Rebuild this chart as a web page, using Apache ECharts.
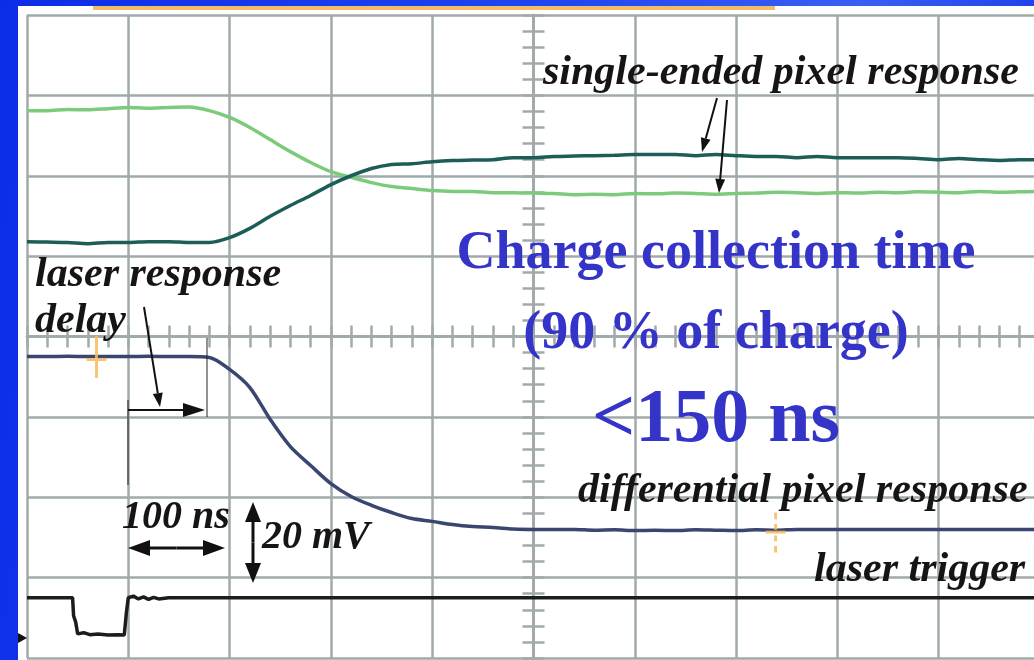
<!DOCTYPE html>
<html>
<head>
<meta charset="utf-8">
<script src="https://cdn.jsdelivr.net/npm/echarts@6/dist/echarts.min.js"></script>
<style>
    html, body { margin: 0; padding: 0; }
    body {
        width: 1034px; height: 660px; overflow: hidden; position: relative;
        background: linear-gradient(100deg, #0c2ce8 0%, #1d43f2 45%, #3a5ef4 75%, #0f30e6 100%);
    }
    #panel { position: absolute; left: 18px; top: 6px; right: 0; bottom: 0; background: #ffffff; }
    #strip { position: absolute; left: 93px; top: 6px; width: 682px; height: 4px; background: #f2bb68; }
    #scope { position: absolute; left: 0; top: 0; width: 1034px; height: 660px; }
</style>
</head>
<body>
<div id="panel"></div>
<div id="strip"></div>
<div id="scope"></div>
<script>
// time axis in ns, amplitude in mV (20 mV / div, 100 ns / div)
const times = [0, 20, 40, 60, 80, 100, 120, 140, 160, 180,
    200, 220, 240, 260, 280, 300, 320, 340, 360, 380,
    400, 420, 440, 460, 480, 500, 520, 540, 560, 580,
    600, 620, 640, 660, 680, 700, 720, 740, 760, 780,
    800, 820, 840, 860, 880, 900, 920, 940, 960, 980, 1000];

// single-ended pixel response, falling channel (light green)
const singleFall = [56.2, 56.2, 56.5, 56.4, 56.7, 57.0, 56.8, 57.0, 57.1, 56.2,
    54.5, 52.0, 49.0, 46.0, 43.3, 41.0, 39.6, 38.3, 37.3, 36.8,
    36.3, 36.1, 36.1, 35.8, 35.8, 35.7, 35.6, 35.3, 35.4, 35.3,
    35.6, 35.5, 35.7, 35.6, 35.4, 35.6, 35.7, 35.9, 35.8, 35.6,
    35.8, 35.7, 35.9, 35.8, 36.0, 35.9, 35.8, 36.1, 35.9, 36.0, 36.1];

// single-ended pixel response, rising channel (dark teal)
const singleRise = [23.6, 23.5, 23.4, 23.1, 23.4, 23.4, 23.6, 23.6, 23.4, 23.4,
    24.6, 26.9, 29.9, 32.6, 35.1, 37.8, 40.0, 41.8, 42.8, 43.0,
    43.5, 43.8, 43.9, 44.0, 44.5, 44.5, 44.8, 44.9, 45.0, 45.1,
    45.3, 45.3, 45.3, 45.0, 45.3, 45.0, 44.8, 44.8, 44.5, 44.8,
    44.5, 44.5, 44.5, 44.5, 44.3, 44.0, 44.3, 44.0, 43.8, 44.0, 44.0];

// differential pixel response
const differential = [-5.0, -5.0, -4.9, -5.0, -5.0, -5.0, -4.9, -5.0, -5.0, -5.2,
    -8.2, -12.7, -20.6, -27.4, -32.1, -36.6, -39.8, -42.0, -43.8, -45.3,
    -46.0, -46.8, -47.3, -47.5, -47.9, -48.0, -48.0, -48.0, -48.2, -48.1,
    -48.3, -48.2, -48.3, -48.1, -48.2, -48.3, -48.1, -48.2, -48.0, -48.0,
    -48.0, -48.0, -48.0, -48.0, -48.0, -48.0, -48.0, -48.0, -48.0, -48.0, -48.0];

// laser trigger
const triggerTimes = [0, 45, 46, 48, 50, 56, 62, 70, 80, 90, 96, 98, 100,
    105, 110, 115, 120, 125, 130, 140, 150, 1000];
const triggerValues = [-65, -65, -69.5, -71, -74, -73.7, -74.2, -74.0, -74.3, -74.2, -74.3, -69, -65,
    -64.6, -65.3, -64.8, -65.4, -64.9, -65.3, -65, -65, -65];

// scope cursor markers [ns, mV]
const cursorSolid = [68.6, -5.1];
const cursorDashed = [739, -48.8];

const pair = (xs, ys) => xs.map((x, i) => [x, ys[i]]);

const gridColor = '#a1aaaa';
const italicFont = 'italic bold 42px "Liberation Serif"';
const blueFont = 'bold 54px "Liberation Serif"';

function arrow(x1, y1, x2, y2, headLen, headW, lw) {
    const dx = x2 - x1, dy = y2 - y1;
    const len = Math.sqrt(dx * dx + dy * dy);
    const ux = dx / len, uy = dy / len;
    const bx = x2 - ux * headLen, by = y2 - uy * headLen;
    return [
        { type: 'line', z: 50, shape: { x1: x1, y1: y1, x2: bx, y2: by }, style: { stroke: '#111', lineWidth: lw } },
        { type: 'polygon', z: 50, shape: { points: [[x2, y2], [bx - uy * headW, by + ux * headW], [bx + uy * headW, by - ux * headW]] }, style: { fill: '#111' } }
    ];
}

function doubleArrow(x1, y1, x2, y2, headLen, headW, lw) {
    const mx = (x1 + x2) / 2, my = (y1 + y2) / 2;
    return arrow(mx, my, x2, y2, headLen, headW, lw).concat(arrow(mx, my, x1, y1, headLen, headW, lw));
}

function label(text, x, y, font, fill, align) {
    return {
        type: 'text', z: 60, x: x, y: y,
        style: { text: text, font: font, fill: fill, textAlign: align || 'left', textVerticalAlign: 'middle' }
    };
}

const graphics = [
    label('single-ended pixel response', 543, 73, italicFont, '#151515'),
    label('Charge collection time', 716, 254, blueFont, '#3434c8', 'center'),
    label('(90 % of charge)', 716, 334, blueFont, '#3434c8', 'center'),
    label('<150 ns', 716, 421, 'bold 76px "Liberation Serif"', '#3434c8', 'center'),
    label('laser response', 35, 275, italicFont, '#151515'),
    label('delay', 35, 321, italicFont, '#151515'),
    label('100 ns', 122, 518, 'italic bold 40px "Liberation Serif"', '#151515'),
    label('20 mV', 262, 538, 'italic bold 40px "Liberation Serif"', '#151515'),
    label('differential pixel response', 578, 491, italicFont, '#151515'),
    label('laser trigger', 814, 570, italicFont, '#151515'),
    { type: 'line', z: 50, shape: { x1: 207, y1: 338, x2: 207, y2: 417 }, style: { stroke: '#222', lineWidth: 1 } },
    { type: 'line', z: 50, shape: { x1: 128, y1: 400, x2: 128, y2: 485 }, style: { stroke: '#222', lineWidth: 1 } },
    { type: 'polygon', z: 50, shape: { points: [[27, 638], [18, 633], [18, 643]] }, style: { fill: '#111' } }
]
    .concat(arrow(717, 98, 702, 152, 14, 5, 2))
    .concat(arrow(727, 100, 719, 193, 14, 5, 2))
    .concat(arrow(144, 307, 160, 407, 14, 5, 2))
    .concat(arrow(128, 410, 205, 410, 22, 7, 2))
    .concat(doubleArrow(128, 548, 225, 548, 22, 8, 3))
    .concat(doubleArrow(253, 502, 253, 583, 20, 8, 3));

const axisCommon = {
    type: 'value',
    axisLabel: { show: false },
    axisTick: { show: true, length: 11, lineStyle: { color: gridColor, width: 2.5 } },
    minorTick: { show: true, splitNumber: 5, length: 11, lineStyle: { color: gridColor, width: 2.5 } }
};
const centerLine = { show: true, onZero: false, lineStyle: { color: gridColor, width: 2.5 } };
const splitOn = { show: true, lineStyle: { color: gridColor, width: 2.5 } };

const chart = echarts.init(document.getElementById('scope'), null, { renderer: 'canvas' });

chart.setOption({
    backgroundColor: 'transparent',
    animation: false,
    grid: { left: 27, top: 15, width: 1013, height: 643, show: false, outerBoundsMode: 'none', containLabel: false },
    xAxis: [
        Object.assign({}, axisCommon, { position: 'bottom', min: 0, max: 1000, interval: 100,
            axisLine: { show: true, onZero: true, lineStyle: centerLine.lineStyle }, splitLine: splitOn }),
        Object.assign({}, axisCommon, { position: 'top', min: 0, max: 1000, interval: 100,
            axisLine: { show: true, onZero: true, lineStyle: centerLine.lineStyle }, splitLine: { show: false } })
    ],
    yAxis: [
        Object.assign({}, axisCommon, { position: 'left', offset: -506.5, min: -80, max: 80, interval: 20,
            axisLine: centerLine, splitLine: splitOn }),
        Object.assign({}, axisCommon, { position: 'right', offset: -506.5, min: -80, max: 80, interval: 20,
            axisLine: centerLine, splitLine: { show: false } })
    ],
    graphic: graphics,
    series: [
        {
            name: 'single-ended (falling)', type: 'line', showSymbol: false, smooth: 0.3,
            data: pair(times, singleFall),
            lineStyle: { color: '#7ccb7c', width: 3.5 }
        },
        {
            name: 'single-ended (rising)', type: 'line', showSymbol: false, smooth: 0.3,
            data: pair(times, singleRise),
            lineStyle: { color: '#1c5e57', width: 3.5 }
        },
        {
            name: 'differential', type: 'line', showSymbol: false, smooth: 0.3,
            data: pair(times, differential),
            lineStyle: { color: '#3a4670', width: 3.5 }
        },
        {
            name: 'laser trigger', type: 'line', showSymbol: false,
            data: pair(triggerTimes, triggerValues),
            lineStyle: { color: '#1c1c1c', width: 3.5 }
        },
        {
            name: 'cursors', type: 'scatter', z: 40,
            data: [
                { value: cursorSolid, symbol: 'path://M9,0h3v42h-3z M0,22h21v3h-21z', symbolSize: [20, 42] },
                { value: cursorDashed, symbol: 'path://M9,0h3v7h-3z M9,12h3v6h-3z M0,19h21v3h-21z M9,24h3v6h-3z M9,35h3v7h-3z', symbolSize: [20, 40] }
            ],
            itemStyle: { color: '#f6bd63', opacity: 0.9 }
        }
    ]
});
</script>
</body>
</html>
